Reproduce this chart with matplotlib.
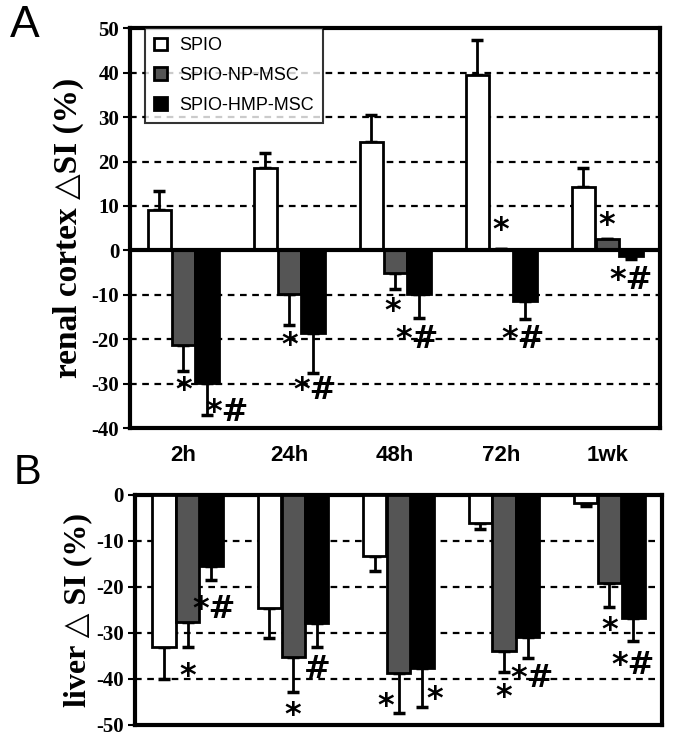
import numpy as np
import matplotlib
matplotlib.use("Agg")
import matplotlib.pyplot as plt
from matplotlib.patches import Patch

times = ["2h", "24h", "48h", "72h", "1wk"]
groups = ["SPIO", "SPIO-NP-MSC", "SPIO-HMP-MSC"]
colors = ["white", "#555555", "black"]

# panel A: renal cortex
renal_mean = [
    [9.2, 18.6, 24.4, 39.4, 14.2],
    [-21.2, -9.8, -5.0, 0.3, 2.5],
    [-29.8, -18.5, -9.8, -11.4, -1.2],
]
renal_err = [
    [4.2, 3.4, 6.0, 8.0, 4.4],
    [6.0, 7.0, 3.8, 0.0, 0.0],
    [7.2, 9.0, 5.4, 4.0, 0.8],
]
# (group, time, y, x offset in bar widths, text)
renal_marks = [
    (1, 0, -30.5, 0.0, "*"), (2, 0, -35.5, 0.85, "*#"),
    (1, 1, -20.5, 0.0, "*"), (2, 1, -30.5, 0.1, "*#"),
    (1, 2, -12.8, -0.1, "*"), (2, 2, -19.0, -0.1, "*#"),
    (1, 3, 5.5, 0.0, "*"), (2, 3, -19.0, -0.1, "*#"),
    (1, 4, 6.5, 0.0, "*"), (2, 4, -5.8, 0.0, "*#"),
]

# panel B: liver
liver_mean = [
    [-33.0, -24.6, -13.3, -6.1, -1.7],
    [-27.6, -35.2, -38.7, -34.0, -19.1],
    [-15.5, -27.9, -37.6, -30.9, -26.7],
]
liver_err = [
    [7.0, 6.4, 3.2, 1.3, 0.8],
    [5.4, 7.6, 8.7, 4.5, 5.2],
    [3.0, 5.1, 8.4, 4.5, 5.0],
]
liver_marks = [
    (1, 0, -38.5, 0.0, "*"), (2, 0, -24.0, 0.1, "*#"),
    (1, 1, -47.0, 0.0, "*"), (2, 1, -37.0, 0.0, "#"),
    (1, 2, -45.0, -0.55, "*"), (2, 2, -43.5, 0.55, "*"),
    (1, 3, -43.0, 0.0, "*"), (2, 3, -39.0, 0.2, "*#"),
    (1, 4, -28.5, 0.0, "*"), (2, 4, -36.0, 0.0, "*#"),
]

serif = ["Liberation Serif", "DejaVu Serif"]
sans = ["Liberation Sans", "DejaVu Sans"]

fig = plt.figure(figsize=(6.75, 7.42), dpi=100)
axA = fig.add_axes([0.193, 0.423, 0.785, 0.539])
axB = fig.add_axes([0.200, 0.023, 0.781, 0.310])

x = np.arange(len(times))
w = 0.22
offs = [-0.225, 0.0, 0.225]


def draw(ax, means, errs, marks, ylim, ticks, grid):
    for i in range(3):
        m = np.array(means[i])
        e = np.array(errs[i])
        lo = np.where(m < 0, e, 0)
        hi = np.where(m >= 0, e, 0)
        ax.bar(x + offs[i], m, w, color=colors[i], edgecolor="black",
               linewidth=2, zorder=3)
        ax.errorbar(x + offs[i], m, yerr=[lo, hi], fmt="none", ecolor="black",
                    elinewidth=2, capsize=4, capthick=2.5, zorder=2)
    for g, t, y, dx, s in marks:
        ax.text(x[t] + offs[g] + dx * w, y - 1.0, s, ha="center", va="center",
                fontsize=23, fontweight="bold", family=["DejaVu Sans"], zorder=5)
    for gy in grid:
        ax.axhline(gy, color="black", lw=1.6, ls=(0, (3, 2.5)), zorder=1)
    ax.set_xlim(-0.5, len(times) - 0.5)
    ax.set_ylim(*ylim)
    ax.set_yticks(ticks)
    ax.set_yticklabels([str(t) for t in ticks], family=serif,
                       fontweight="bold", fontsize=15)
    ax.tick_params(axis="y", direction="out", length=5, width=1.5, pad=3)
    for sp in ax.spines.values():
        sp.set_linewidth(3)


draw(axA, renal_mean, renal_err, renal_marks, (-40, 50),
     list(range(50, -41, -10)), [40, 30, 20, 10, -10, -20, -30])
axA.axhline(0, color="black", lw=3, zorder=4)
axA.set_xticks(x)
axA.set_xticklabels(times, family=sans, fontweight="bold", fontsize=16)
axA.tick_params(axis="x", length=0, pad=12)
axA.set_ylabel("renal cortex \u25b3SI (%)", family=serif, fontweight="bold",
               fontsize=24, labelpad=5)

draw(axB, liver_mean, liver_err, liver_marks, (-50, 0),
     list(range(0, -51, -10)), [-10, -20, -30, -40])
axB.set_xticks([])
axB.set_ylabel("liver \u25b3 SI (%)", family=serif, fontweight="bold",
               fontsize=23, labelpad=3)

handles = [Patch(facecolor=c, edgecolor="black", linewidth=2) for c in colors]
leg = axA.legend(handles, groups, loc="upper left", bbox_to_anchor=(0.028, 1.0),
                 prop={"family": sans, "size": 13}, frameon=True, fancybox=False,
                 handlelength=0.7, handleheight=0.7, handletextpad=0.7,
                 borderpad=0.5, labelspacing=0.7, borderaxespad=0.0)
leg.get_frame().set_edgecolor("black")
leg.get_frame().set_linewidth(1.5)
leg.set_zorder(6)

fig.text(0.014, 0.965, "A", fontsize=32, family=sans, va="center")
fig.text(0.02, 0.362, "B", fontsize=30, family=sans, va="center")

fig.savefig("out.png", dpi=100)
